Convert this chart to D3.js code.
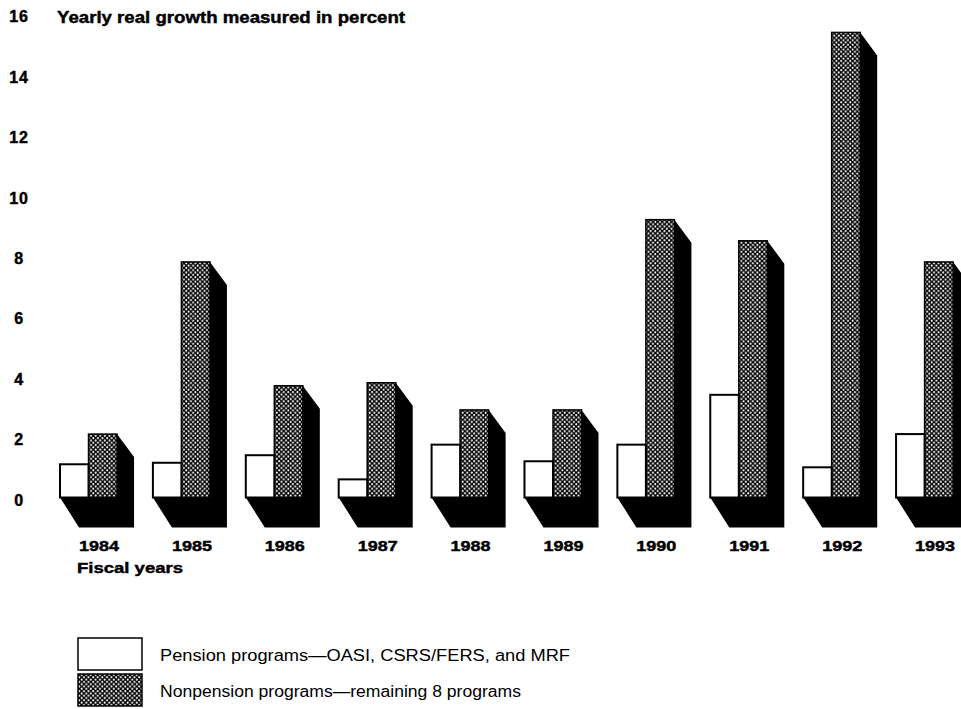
<!DOCTYPE html>
<html>
<head>
<meta charset="utf-8">
<script src="https://cdn.jsdelivr.net/npm/d3@7/dist/d3.min.js"></script>
<style>
  html, body { margin: 0; padding: 0; background: #fff; }
  svg { display: block; }
  text { font-family: "Liberation Sans", Arial, Helvetica, sans-serif; fill: #000; }
  .heavy { stroke: #000; stroke-width: 0.45px; }
</style>
</head>
<body>
<svg id="chart" width="961" height="709"></svg>
<script>
// Fiscal years and yearly real growth (percent) for the two program groups
const years = ["1984", "1985", "1986", "1987", "1988", "1989", "1990", "1991", "1992", "1993"];
const pension = [1.1, 1.15, 1.4, 0.6, 1.75, 1.2, 1.75, 3.4, 1.0, 2.1];
const nonpension = [2.1, 7.8, 3.7, 3.8, 2.9, 2.9, 9.2, 8.5, 15.4, 7.8];
const yTicks = [0, 2, 4, 6, 8, 10, 12, 14, 16];
const seriesNames = ["pension", "nonpension"];
const legendLabels = [
  "Pension programs\u2014OASI, CSRS/FERS, and MRF",
  "Nonpension programs\u2014remaining 8 programs"
];

const rows = years.map((year, i) => ({ year, pension: pension[i], nonpension: nonpension[i] }));

const svg = d3.select("#chart");

// Dotted screen used on the nonpension bars
const defs = svg.append("defs");
const pat = defs.append("pattern")
  .attr("id", "dots")
  .attr("patternUnits", "userSpaceOnUse")
  .attr("width", 4.6).attr("height", 4.6);
pat.append("rect").attr("width", 4.6).attr("height", 4.6).attr("fill", "#000");
pat.append("circle").attr("cx", 1.15).attr("cy", 1.15).attr("r", 1.05).attr("fill", "#fff");
pat.append("circle").attr("cx", 3.45).attr("cy", 3.45).attr("r", 1.05).attr("fill", "#fff");

// Scales
const y = d3.scaleLinear().domain([0, 16]).range([497.5, 14.3]);
const x = d3.scaleBand().domain(years).range([60, 953.1]).paddingInner(0.386).paddingOuter(0);
const xs = d3.scaleBand().domain(seriesNames).range([0, x.bandwidth()]);

// Oblique extrusion offsets
const sideDx = 17, sideDy = 23;   // top edge of the side face
const floorDx = 19, floorDy = 30; // shadow on the floor

const groups = svg.append("g").selectAll("g.grp")
  .data(rows).join("g").attr("class", "grp")
  .attr("transform", d => `translate(${x(d.year)},0)`);

// Black side + floor shadow behind the front faces
groups.append("path")
  .attr("fill", "#000")
  .attr("d", d => {
    const left = xs("pension");
    const right = xs("nonpension") + xs.bandwidth();
    const top = y(d.nonpension);
    const base = y(0);
    return d3.line()([
      [right, top],
      [right + sideDx, top + sideDy],
      [right + sideDx, base + floorDy],
      [left + floorDx, base + floorDy],
      [left, base],
      [right, base]
    ]) + "Z";
  });

// Front faces
groups.append("rect")
  .attr("x", xs("nonpension"))
  .attr("y", d => y(d.nonpension))
  .attr("width", xs.bandwidth())
  .attr("height", d => y(0) - y(d.nonpension))
  .attr("fill", "url(#dots)")
  .attr("stroke", "#000").attr("stroke-width", 1.5);

groups.append("rect")
  .attr("x", xs("pension"))
  .attr("y", d => y(d.pension))
  .attr("width", xs.bandwidth())
  .attr("height", d => y(0) - y(d.pension))
  .attr("fill", "#fff")
  .attr("stroke", "#000").attr("stroke-width", 2);

// Y axis labels
const yAxis = svg.append("g")
  .attr("transform", "translate(19,2.5)")
  .call(d3.axisLeft(y).tickValues(yTicks).tickSize(0).tickPadding(0).tickFormat(d3.format("d")));
yAxis.select(".domain").remove();
yAxis.selectAll("text")
  .attr("class", "heavy")
  .attr("text-anchor", "middle")
  .style("font-family", "'Liberation Sans', Arial, sans-serif")
  .style("font-size", "16px")
  .style("font-weight", "bold")
  .attr("letter-spacing", 0.8);

// Year labels
svg.append("g").selectAll("text")
  .data(years).join("text")
  .attr("class", "heavy")
  .attr("x", d => x(d) + 39)
  .attr("y", 551)
  .attr("text-anchor", "middle")
  .attr("font-size", 15)
  .attr("font-weight", "bold")
  .attr("textLength", 40)
  .attr("lengthAdjust", "spacingAndGlyphs")
  .text(d => d);

// Titles
svg.append("text")
  .attr("class", "heavy")
  .attr("x", 57).attr("y", 23)
  .attr("font-size", 17).attr("font-weight", "bold")
  .attr("textLength", 348).attr("lengthAdjust", "spacingAndGlyphs")
  .text("Yearly real growth measured in percent");

svg.append("text")
  .attr("class", "heavy")
  .attr("x", 77).attr("y", 573)
  .attr("font-size", 15).attr("font-weight", "bold")
  .attr("textLength", 106).attr("lengthAdjust", "spacingAndGlyphs")
  .text("Fiscal years");

// Legend
const legend = svg.append("g");
const legendFills = ["#fff", "url(#dots)"];
const legendTop = [638, 674];
const legendWidths = [410, 361];
legendLabels.forEach((lab, i) => {
  legend.append("rect")
    .attr("x", 78).attr("y", legendTop[i])
    .attr("width", 64).attr("height", 32)
    .attr("fill", legendFills[i])
    .attr("stroke", "#000").attr("stroke-width", 1.5);
  legend.append("text")
    .attr("x", 160).attr("y", legendTop[i] + 23)
    .attr("font-size", 16)
    .attr("textLength", legendWidths[i]).attr("lengthAdjust", "spacingAndGlyphs")
    .text(lab);
});
</script>
</body>
</html>
